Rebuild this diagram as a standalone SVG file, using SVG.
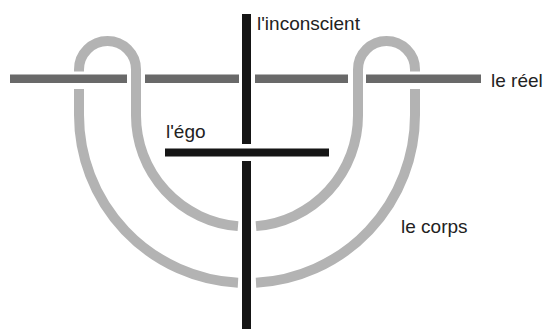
<svg xmlns="http://www.w3.org/2000/svg" width="546" height="329" viewBox="0 0 546 329">
<style>
.rope{fill:none;stroke:#b3b3b3;stroke-width:10;stroke-linecap:butt}
.reel{fill:none;stroke:#696969;stroke-width:8.5;stroke-linecap:butt}
.black{fill:none;stroke:#151515;stroke-width:9;stroke-linecap:butt}
.lbl{font-family:"Liberation Sans",Arial,sans-serif;font-size:19px;fill:#222}
</style>
<rect width="546" height="329" fill="#fff"/>
<g id="corps">
<path class="rope" d="M79,71.5 V69.5 A28.5,28.5 0 0 1 136,69.5 V115.5 A111,111 0 0 0 238,226.13"/>
<path class="rope" d="M256,226.13 A111,111 0 0 0 358,115.5 V69.5 A28.5,28.5 0 0 1 415,69.5 V71.5"/>
<path class="rope" d="M415,89 V115 A168,168 0 0 1 256,282.76"/>
<path class="rope" d="M79,89 V115 A168,168 0 0 0 238,282.76"/>
<text class="lbl" x="401" y="233">le corps</text>
</g>
<g id="reel">
<path class="reel" d="M10,78.75 H127 M145,78.75 H239 M255,78.75 H348 M366,78.75 H481"/>
<text class="lbl" x="491" y="86.5">le réel</text>
</g>
<g id="inconscient">
<path class="black" d="M246.5,14 V144 M246.5,161 V329"/>
<text class="lbl" x="257" y="29.5">l'inconscient</text>
</g>
<g id="ego">
<path class="black" d="M165,152.5 H329" style="stroke-width:8"/>
<text class="lbl" x="166" y="138">l'égo</text>
</g>
</svg>
